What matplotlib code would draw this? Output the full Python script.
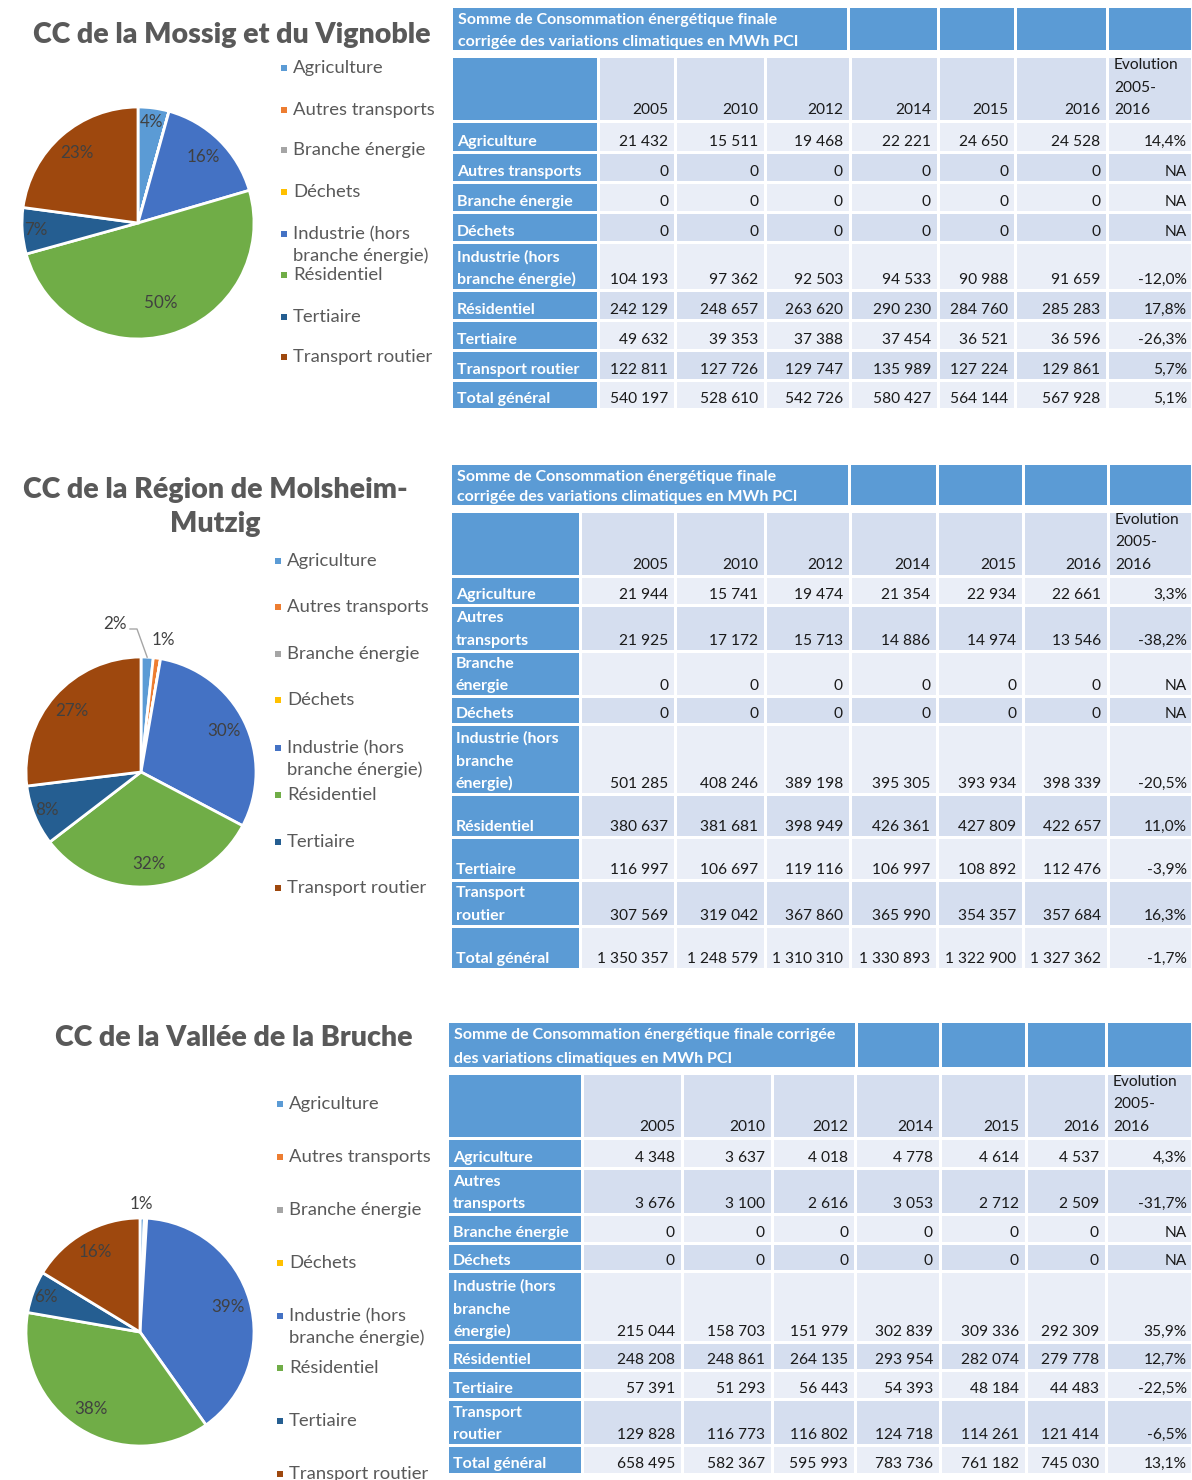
#!/usr/bin/env python3

import numpy as np
import matplotlib
matplotlib.use("Agg")
import matplotlib.pyplot as plt
from matplotlib.patches import Rectangle

plt.rcParams['font.family'] = ['Lato', 'DejaVu Sans']

PX = 0.72  # px -> pt at dpi 100

sectors = ["Agriculture", "Autres transports", "Branche énergie", "Déchets",
           "Industrie (hors branche énergie)", "Résidentiel", "Tertiaire",
           "Transport routier"]
colors = ["#5B9BD5", "#ED7D31", "#A5A5A5", "#FFC000", "#4472C4", "#70AD47",
          "#255E91", "#9E480E"]
years = [2005, 2010, 2012, 2014, 2015, 2016]

# MWh PCI, one row per sector, last row = "Total général" as given in the source
data = {
    "CC de la Mossig et du Vignoble": np.array([
        [21432, 15511, 19468, 22221, 24650, 24528],
        [0, 0, 0, 0, 0, 0],
        [0, 0, 0, 0, 0, 0],
        [0, 0, 0, 0, 0, 0],
        [104193, 97362, 92503, 94533, 90988, 91659],
        [242129, 248657, 263620, 290230, 284760, 285283],
        [49632, 39353, 37388, 37454, 36521, 36596],
        [122811, 127726, 129747, 135989, 127224, 129861],
        [540197, 528610, 542726, 580427, 564144, 567928],
    ]),
    "CC de la Région de Molsheim-\nMutzig": np.array([
        [21944, 15741, 19474, 21354, 22934, 22661],
        [21925, 17172, 15713, 14886, 14974, 13546],
        [0, 0, 0, 0, 0, 0],
        [0, 0, 0, 0, 0, 0],
        [501285, 408246, 389198, 395305, 393934, 398339],
        [380637, 381681, 398949, 426361, 427809, 422657],
        [116997, 106697, 119116, 106997, 108892, 112476],
        [307569, 319042, 367860, 365990, 354357, 357684],
        [1350357, 1248579, 1310310, 1330893, 1322900, 1327362],
    ]),
    "CC de la Vallée de la Bruche": np.array([
        [4348, 3637, 4018, 4778, 4614, 4537],
        [3676, 3100, 2616, 3053, 2712, 2509],
        [0, 0, 0, 0, 0, 0],
        [0, 0, 0, 0, 0, 0],
        [215044, 158703, 151979, 302839, 309336, 292309],
        [248208, 248861, 264135, 293954, 282074, 279778],
        [57391, 51293, 56443, 54393, 48184, 44483],
        [129828, 116773, 116802, 124718, 114261, 121414],
        [658495, 582367, 595993, 783736, 761182, 745030],
    ]),
}

# layout of each block (pixels)
blocks = [
    dict(title_y=[35], title_x=232, pie=(138, 223, 116),
         leg_x=281, leg_y=[68, 110, 150, 192, 234, 275, 317, 357],
         small={},
         tab_x=[451, 598, 675, 765, 850, 938, 1015, 1107, 1192],
         head1=(8, 50), head1_split=848,
         tab_y=[56, 121, 152, 182, 212, 242, 290, 320, 350, 380, 409],
         title_lines=["Somme de Consommation énergétique finale",
                      "corrigée des variations climatiques en MWh PCI"],
         labels=["Agriculture", "Autres transports", "Branche énergie", "Déchets",
                 "Industrie (hors\nbranche énergie)", "Résidentiel", "Tertiaire",
                 "Transport routier", "Total général"]),
    dict(title_y=[490, 524], title_x=215, pie=(141, 772, 115),
         leg_x=275, leg_y=[561, 607, 654, 700, 748, 795, 842, 888],
         small={0: (115, 624), 1: (163, 640)},
         tab_x=[450, 580, 675, 765, 850, 937, 1023, 1108, 1192],
         head1=(465, 505), head1_split=849,
         tab_y=[511, 576, 605, 651, 696, 724, 794, 837, 880, 926, 969],
         title_lines=["Somme de Consommation énergétique finale",
                      "corrigée des variations climatiques en MWh PCI"],
         labels=["Agriculture", "Autres\ntransports", "Branche\nénergie", "Déchets",
                 "Industrie (hors\nbranche\nénergie)", "Résidentiel", "Tertiaire",
                 "Transport\nroutier", "Total général"]),
    dict(title_y=[1038], title_x=234, pie=(140, 1332, 114),
         leg_x=277, leg_y=[1104, 1157, 1210, 1263, 1316, 1368, 1421, 1474],
         small={0: (141, 1204)},
         tab_x=[447, 582, 682, 772, 855, 940, 1026, 1106, 1192],
         head1=(1023, 1067), head1_split=856,
         tab_y=[1073, 1138, 1168, 1214, 1243, 1271, 1342, 1370, 1399, 1445, 1474],
         title_lines=["Somme de Consommation énergétique finale corrigée",
                      "des variations climatiques en MWh PCI"],
         labels=["Agriculture", "Autres\ntransports", "Branche énergie", "Déchets",
                 "Industrie (hors\nbranche\nénergie)", "Résidentiel", "Tertiaire",
                 "Transport\nroutier", "Total général"]),
]


def fmt(v):
    return f"{v:,}".replace(",", " ")


def evol(a, b):
    if a == 0:
        return "NA"
    return f"{(b / a - 1) * 100:.1f}%".replace(".", ",")


def excel_pct(vals):
    # percentages rounded so they add up to 100 (largest remainder)
    p = vals / vals.sum() * 100
    fl = np.floor(p)
    rest = int(round(100 - fl.sum()))
    order = np.argsort(-(p - fl))
    fl[order[:rest]] += 1
    return fl.astype(int)


def lines_up(ax, x, ybot, text, ha, size, color, weight, step=22.5):
    parts = text.split("\n")
    for i, t in enumerate(reversed(parts)):
        ax.text(x, ybot - i * step, t, ha=ha, va="baseline", fontsize=size * PX,
                color=color, fontweight=weight)


fig = plt.figure(figsize=(11.92, 14.80), dpi=100)
ax = fig.add_axes([0, 0, 1, 1])

HEAD = "#5B9BD5"
DARK = "#D5DEEF"
LIGHT = "#EAEEF7"
GAP = 1.5
TXT = "#1a1a1a"

for (name, tab), b in zip(data.items(), blocks):
    # ---- title
    for t, y in zip(name.split("\n"), b["title_y"]):
        ax.text(b["title_x"], y, t, ha="center", va="center", fontsize=28.5 * PX,
                fontweight="heavy", color="#595959")

    # ---- pie (2016)
    vals = tab[:8, -1].astype(float)
    cx, cy, r = b["pie"]
    wedges, _ = ax.pie(vals, colors=colors, center=(cx, cy), radius=r,
                       startangle=-90, counterclock=True,
                       wedgeprops=dict(edgecolor="white", linewidth=2))
    pct = excel_pct(vals)
    for i, w in enumerate(wedges):
        if pct[i] == 0:
            continue
        mid = np.deg2rad((w.theta1 + w.theta2) / 2)
        if i in b["small"]:
            tx, ty = b["small"][i]
        else:
            share = vals[i] / vals.sum()
            f = 0.72 if share > 0.45 else (0.8 if share > 0.1 else 0.88)
            tx, ty = cx + f * r * np.cos(mid), cy + f * r * np.sin(mid)
        ax.text(tx, ty, f"{pct[i]}%", ha="center", va="center",
                fontsize=17 * PX, color="#404040")
    if 0 in b["small"] and len(b["small"]) > 1:
        # leader line for the small Agriculture slice
        mid = np.deg2rad((wedges[0].theta1 + wedges[0].theta2) / 2)
        ex, ey = cx + r * np.cos(mid), cy + r * np.sin(mid)
        tx, ty = b["small"][0]
        ax.plot([tx + 15, tx + 22, ex], [ty + 5, ty + 5, ey], color="#A6A6A6", lw=1)

    # ---- legend
    for i, (s, c) in enumerate(zip(sectors, colors)):
        y = b["leg_y"][i]
        ax.add_patch(Rectangle((b["leg_x"], y - 3), 6, 6, color=c, lw=0))
        parts = ["Industrie (hors", "branche énergie)"] if i == 4 else [s]
        for k, t in enumerate(parts):
            ax.text(b["leg_x"] + 12, y + 22 * k, t, ha="left", va="center",
                    fontsize=18.5 * PX, color="#595959")

    # ---- table
    xs = b["tab_x"]
    ys = b["tab_y"]
    h0, h1 = b["head1"]
    splits = [xs[0], b["head1_split"], xs[5], xs[6], xs[7], xs[8]]
    for x0, x1 in zip(splits[:-1], splits[1:]):
        ax.add_patch(Rectangle((x0 + GAP, h0), x1 - x0 - 2 * GAP, h1 - h0,
                               color=HEAD, lw=0))
    lines_up(ax, xs[0] + 7, h1 - 4, "\n".join(b["title_lines"]), "left", 16,
             "white", "bold", step=h1 - h0 - 20)

    # year header row
    for j in range(8):
        x0, x1 = xs[j], xs[j + 1]
        ax.add_patch(Rectangle((x0 + GAP, ys[0] + GAP), x1 - x0 - 2 * GAP,
                               ys[1] - ys[0] - 2 * GAP,
                               color=HEAD if j == 0 else DARK, lw=0))
        if 1 <= j <= 6:
            lines_up(ax, x1 - 7, ys[1] - 7, str(years[j - 1]), "right", 15.5,
                     TXT, "normal")
    lines_up(ax, xs[7] + 7, ys[1] - 7, "Evolution\n2005-\n2016", "left", 15.5,
             TXT, "normal")

    for k, row in enumerate(tab):
        y0, y1 = ys[k + 1], ys[k + 2]
        fill = LIGHT if k % 2 == 0 else DARK
        for j in range(8):
            x0, x1 = xs[j], xs[j + 1]
            ax.add_patch(Rectangle((x0 + GAP, y0 + GAP), x1 - x0 - 2 * GAP,
                                   y1 - y0 - 2 * GAP,
                                   color=HEAD if j == 0 else fill, lw=0))
        lines_up(ax, xs[0] + 6, y1 - 6, b["labels"][k], "left", 16, "white", "bold")
        for j, v in enumerate(row):
            lines_up(ax, xs[j + 2] - 7, y1 - 6, fmt(int(v)), "right", 15.5,
                     TXT, "normal")
        lines_up(ax, xs[8] - 5, y1 - 6, evol(row[0], row[-1]), "right", 15.5,
                 TXT, "normal")

ax.set_xlim(0, 1192)
ax.set_ylim(1480, 0)
ax.set_aspect("equal")
ax.axis("off")

fig.savefig("out.png", dpi=100, facecolor="white")
